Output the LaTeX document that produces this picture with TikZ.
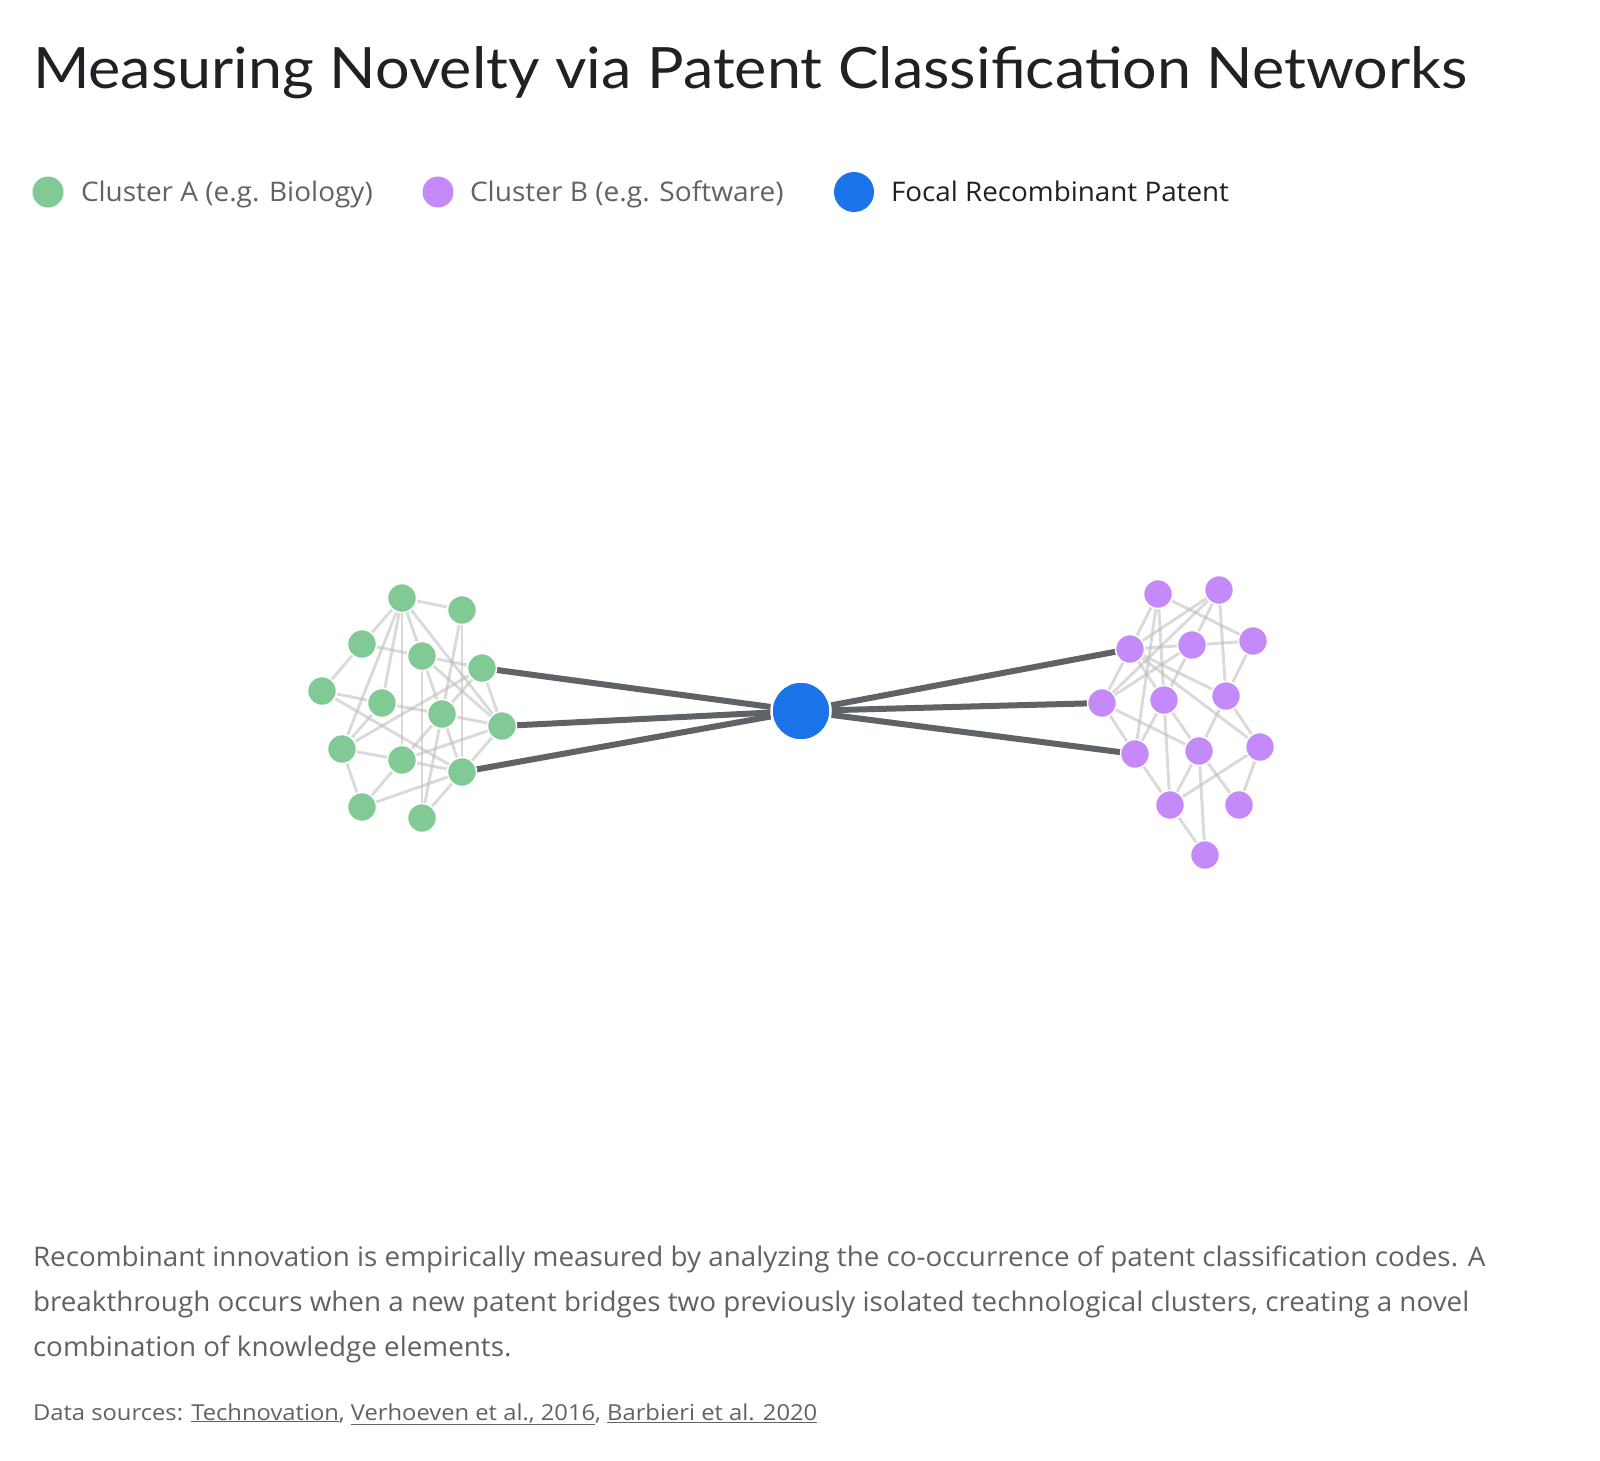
\documentclass[tikz,border=0pt]{standalone}
\usepackage{fontspec}
\setmainfont{Lato}
\newfontfamily\bodyfont{Open Sans}
\pgfdeclarelayer{back}
\pgfdeclarelayer{bg}
\pgfsetlayers{back,bg,main}
\definecolor{ttl}{HTML}{202124}
\definecolor{txt}{HTML}{5F6368}
\definecolor{cga}{HTML}{81C995}
\definecolor{cgb}{HTML}{C58AF9}
\definecolor{foc}{HTML}{1A73E8}
\definecolor{thk}{HTML}{5F6368}
\definecolor{lite}{HTML}{BDBDBD}
\tikzset{
  anode/.style={circle,fill=cga,draw=white,line width=1.5pt,minimum size=29pt,inner sep=0pt},
  bnode/.style={circle,fill=cgb,draw=white,line width=1.5pt,minimum size=29pt,inner sep=0pt},
  fnode/.style={circle,fill=foc,draw=white,line width=2.5pt,minimum size=59pt,inner sep=0pt},
  liteedge/.style={draw=lite,line width=2.9pt,opacity=0.55},
  thickedge/.style={draw=thk,line width=6pt},
  lbl/.style={anchor=base west,inner sep=0pt,outer sep=0pt},
  legtext/.style={lbl,font=\bodyfont\fontsize{27}{30}\selectfont},
  bodytext/.style={lbl,text=txt,font=\bodyfont\fontsize{27}{30}\selectfont},
}
\begin{document}
\begin{tikzpicture}[x=1pt,y=-1pt]
\begin{pgfonlayer}{back}
\fill[white] (0,0) rectangle (1600,1460);
\end{pgfonlayer}
\useasboundingbox (0,0) rectangle (1600,1460);
% title
\node[lbl,text=ttl,font=\fontsize{57}{60}\selectfont] (title) at (33,88) {\scalebox{1.07}[1]{Measuring Novelty via Patent Classification Networks}};
% legend
\node[circle,fill=cga,minimum size=31pt,inner sep=0pt] (la) at (48,192) {};
\node[legtext,text=txt] (lat) at (81,201.5) {\scalebox{1.035}[1]{Cluster A (e.g. Biology)}};
\node[circle,fill=cgb,minimum size=31pt,inner sep=0pt] (lb) at (438,192) {};
\node[legtext,text=txt] (lbt) at (470,201.5) {\scalebox{1.04}[1]{Cluster B (e.g. Software)}};
\node[circle,fill=foc,minimum size=40pt,inner sep=0pt] (lf) at (854,192) {};
\node[legtext,text=ttl] (lft) at (891,201.5) {\scalebox{1.03}[1]{Focal Recombinant Patent}};
% cluster A
\node[anode] (G1) at (402,598) {};
\node[anode] (G2) at (462,610) {};
\node[anode] (G3) at (362,644) {};
\node[anode] (G4) at (422,656) {};
\node[anode] (G5) at (482,668) {};
\node[anode] (G6) at (322,691) {};
\node[anode] (G7) at (382,703) {};
\node[anode] (G8) at (442,714) {};
\node[anode] (G9) at (502,726) {};
\node[anode] (G10) at (342,749) {};
\node[anode] (G11) at (402,760) {};
\node[anode] (G12) at (462,772) {};
\node[anode] (G13) at (362,807) {};
\node[anode] (G14) at (422,818) {};
% cluster B
\node[bnode] (P1) at (1158,594) {};
\node[bnode] (P2) at (1219,590) {};
\node[bnode] (P3) at (1130,649) {};
\node[bnode] (P4) at (1192,645) {};
\node[bnode] (P5) at (1253,641) {};
\node[bnode] (P6) at (1102,703) {};
\node[bnode] (P7) at (1164,700) {};
\node[bnode] (P8) at (1226,696) {};
\node[bnode] (P9) at (1135,754) {};
\node[bnode] (P10) at (1199,751) {};
\node[bnode] (P11) at (1260,747) {};
\node[bnode] (P12) at (1170,805) {};
\node[bnode] (P13) at (1239,805) {};
\node[bnode] (P14) at (1205,855) {};
% focal
\node[fnode] (F) at (801,711) {};
\begin{pgfonlayer}{bg}
\foreach \a/\b in {G1/G2,G1/G3,G1/G4,G1/G7,G1/G11,G1/G10,G1/G9,G2/G8,G2/G12,G3/G4,G4/G5,G3/G6,
  G4/G8,G4/G9,G4/G14,G5/G9,G5/G8,G5/G10,G6/G7,G6/G12,G7/G8,G7/G10,G8/G9,G8/G11,G8/G12,G8/G14,
  G9/G11,G9/G12,G10/G11,G10/G13,G11/G12,G11/G13,G12/G13,G12/G14}
  \draw[liteedge] (\a.center) -- (\b.center);
\foreach \a/\b in {P1/P3,P1/P5,P1/P7,P1/P9,P2/P3,P2/P4,P2/P8,P2/P6,P3/P4,P3/P6,P3/P7,P3/P8,P3/P11,
  P4/P5,P4/P6,P4/P7,P5/P8,P6/P9,P6/P10,P7/P9,P7/P10,P7/P12,P8/P10,P8/P11,P9/P12,P10/P12,P10/P13,
  P10/P14,P11/P12,P11/P13,P12/P14}
  \draw[liteedge] (\a.center) -- (\b.center);
\foreach \a in {G5,G9,G12,P3,P6,P9}
  \draw[thickedge] (\a.center) -- (F.center);
\end{pgfonlayer}
% paragraph
\node[bodytext] (p1) at (33,1266.5) {\scalebox{1.03}[1]{Recombinant innovation is empirically measured by analyzing the co-occurrence of patent classification codes. A}};
\node[bodytext] (p2) at (33,1311.5) {\scalebox{1.03}[1]{breakthrough occurs when a new patent bridges two previously isolated technological clusters, creating a novel}};
\node[bodytext] (p3) at (33,1356.5) {\scalebox{1.03}[1]{combination of knowledge elements.}};
\node[lbl,text=txt,font=\bodyfont\fontsize{22}{24}\selectfont] (src) at (33,1420) {\scalebox{1.08}[1]{Data sources: \underline{Technovation}, \underline{Verhoeven et al., 2016}, \underline{Barbieri et al. 2020}}};
\end{tikzpicture}
\end{document}
